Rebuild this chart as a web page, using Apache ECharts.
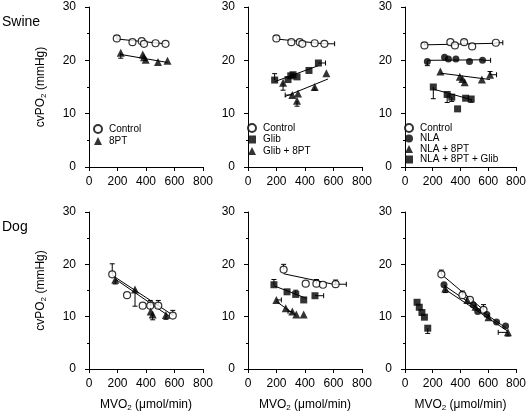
<!DOCTYPE html>
<html><head><meta charset="utf-8">
<script src="https://cdn.jsdelivr.net/npm/echarts@6/dist/echarts.min.js"></script>
<style>html,body{margin:0;padding:0;background:#fff}#c{width:529px;height:413px}</style>
</head><body><div id="c"></div>
<script>
// ---- axis ticks ----
const xTicks = [0, 200, 400, 600, 800];
const yTicks = [0, 10, 20, 30];
const rowLabels = ['Swine', 'Dog'];

// ---- data: [MVO2, cvPO2, yErr(signed, +up/-down), xErr(signed, +right/-left)] ----
// Swine, panel 1
const sw1Control = [[195,24.1,0.5,0],[305,23.4,0,0],[370,23.6,0,0],[386,23.1,0,0],[467,23.2,0,0],[537,23.1,0,0]];
const sw1ControlFit = [[195,24.0],[537,23.1]];
const sw1PT = [[223,21.4,-1.0,0],[377,21.1,0,0],[386,20.6,0,0],[398,20.1,0,0],[484,19.7,0,0],[551,19.9,0,0]];
const sw1PTFit = [[223,21.1],[551,19.6]];
// Swine, panel 2
const sw2Control = [[199,24.1,0.5,0],[304,23.4,0,0],[363,23.4,0,0],[381,23.1,0,0],[468,23.2,0,0],[536,23.1,0,72]];
const sw2ControlFit = [[199,24.0],[536,23.1]];
const sw2Glib = [[187,16.3,1.2,0],[281,16.4,0,0],[300,17.1,0,0],[316,17.3,0,0],[344,16.9,0,0],[428,18.1,0,0],[494,19.5,0,50]];
const sw2GlibFit = [[187,16.0],[494,19.0]];
const sw2GlibPT = [[246,15.8,-1.4,0],[311,13.5,0,-50],[344,12.4,-1.0,0],[351,13.8,0,0],[468,15.0,-0.6,0],[550,17.6,0,0]];
const sw2GlibPTFit = [[259,13.2],[561,16.5]];
// Swine, panel 3
const sw3Control = [[140,22.8,0.5,0],[327,23.4,0,0],[360,22.8,0,0],[426,23.4,0.4,0],[484,22.6,0,0],[655,23.3,0,50]];
const sw3ControlFit = [[140,22.9],[655,23.2]];
const sw3NLA = [[161,19.8,-0.8,0],[285,20.6,0,0],[313,20.25,0,0],[367,20.25,0,0],[465,19.8,0,0],[559,20.0,0,58]];
const sw3NLAFit = [[161,20.0],[559,20.1]];
const sw3NLAPT = [[255,17.9,0,0],[395,16.9,0,0],[414,16.5,0,0],[430,15.9,0,0],[554,16.4,0,0],[613,17.3,0.6,47]];
const sw3NLAPTFit = [[255,17.6],[613,16.4]];
const sw3NLAPTG = [[204,15.0,-2.2,0],[304,13.6,-1.5,0],[337,13.1,-0.8,0],[379,10.9,0,0],[437,12.9,0,0],[477,12.75,-0.6,0]];
const sw3NLAPTGFit = [[204,14.6],[484,12.6]];
// Dog, panel 1
const d1Control = [[163,18.1,2,0],[267,14.1,0,0],[377,12.1,0,0],[430,12.1,1,0],[486,12.1,1,0],[588,10.2,1,0]];
const d1ControlFit = [[163,17.9],[588,10.3]];
const d1PT = [[184,17.05,-0.8,0],[323,15.2,-3.2,0],[433,11.0,0,0],[447,10.4,-1,0],[540,10.3,-0.8,0]];
const d1PTFit = [[184,17.2],[567,10.0]];
// Dog, panel 2
const d2Control = [[250,19.0,1,0],[405,16.3,0,0],[480,16.3,0.8,0],[526,16.1,0,0],[615,16.2,0.8,75]];
const d2ControlFit = [[250,18.2],[615,16.1]];
const d2Glib = [[182,16.1,1,0],[274,14.75,0,0],[335,14.25,0.8,0],[391,13.2,0,0],[470,14.0,0,61]];
const d2GlibFit = [[182,15.9],[410,13.5]];
const d2GlibPT = [[199,13.2,0,35],[265,11.6,0,0],[311,11.0,0,-30],[339,10.4,0,0],[391,10.4,0,0]];
const d2GlibPTFit = [[199,12.9],[328,10.4]];
// Dog, panel 3
const d3Control = [[262,18.1,0.8,0],[414,14.1,0.8,0],[468,13.2,0,0],[566,11.3,1,0]];
const d3ControlFit = [[262,18.1],[566,11.3]];
const d3NLA = [[281,16.1,0,0],[491,12.3,0,0],[524,11.0,0,0],[590,10.4,0,0],[660,9.0,0,0],[725,8.2,0,0]];
const d3NLAFit = [[281,16.0],[725,7.9]];
const d3NLAPT = [[290,15.4,-0.8,0],[449,13.2,0,0],[508,11.9,0,0],[602,9.9,0,0],[742,7.0,-0.7,-70]];
const d3NLAPTFit = [[290,15.2],[742,7.2]];
const d3NLAPTG = [[87,12.75,0,0],[103,11.8,0,0],[122,10.8,0,0],[140,9.9,0,0],[164,7.8,-1,0]];

// ---- groups (panel index, legend name, marker style) ----
const groups = [
  [0,'Control','ctrl',sw1Control,sw1ControlFit],
  [0,'8PT','tri',sw1PT,sw1PTFit],
  [1,'Control','ctrl',sw2Control,sw2ControlFit],
  [1,'Glib','sq',sw2Glib,sw2GlibFit],
  [1,'Glib + 8PT','tri',sw2GlibPT,sw2GlibPTFit],
  [2,'Control','ctrl',sw3Control,sw3ControlFit],
  [2,'NLA','dot',sw3NLA,sw3NLAFit],
  [2,'NLA + 8PT','tri',sw3NLAPT,sw3NLAPTFit],
  [2,'NLA + 8PT + Glib','sq',sw3NLAPTG,sw3NLAPTGFit],
  [3,'Control','ctrl',d1Control,d1ControlFit],
  [3,'8PT','tri',d1PT,d1PTFit],
  [4,'Control','ctrl',d2Control,d2ControlFit],
  [4,'Glib','sq',d2Glib,d2GlibFit],
  [4,'Glib + 8PT','tri',d2GlibPT,d2GlibPTFit],
  [5,'Control','ctrl',d3Control,d3ControlFit],
  [5,'NLA','dot',d3NLA,d3NLAFit],
  [5,'NLA + 8PT','tri',d3NLAPT,d3NLAPTFit],
  [5,'NLA + 8PT + Glib','sq',d3NLAPTG,null]
];

const STY = {
  ctrl:{symbol:'circle',symbolSize:7,itemStyle:{color:'#fff',borderColor:'#000',borderWidth:1.2}},
  dot:{symbol:'circle',symbolSize:7,itemStyle:{color:'#000',borderColor:'#000',borderWidth:0}},
  tri:{symbol:'triangle',symbolSize:8,itemStyle:{color:'#000',borderColor:'#000',borderWidth:0}},
  sq:{symbol:'rect',symbolSize:7,itemStyle:{color:'#000',borderColor:'#000',borderWidth:0}}
};
const ICON = {ctrl:'circle',dot:'circle',tri:'triangle',sq:'rect'};

const FONT = 'Liberation Sans, Arial, sans-serif';
const panels = [
  {left:89,top:7,width:114},{left:248,top:7,width:114},{left:405,top:7,width:115},
  {left:89,top:212,width:114},{left:248,top:212,width:114},{left:405,top:212,width:115}
];

const grid = panels.map(p=>({left:p.left,top:p.top,width:p.width,height:160,containLabel:false}));
const xAxis = panels.map((p,i)=>({
  gridIndex:i,type:'value',min:xTicks[0],max:xTicks[xTicks.length-1],interval:xTicks[1]-xTicks[0],
  offset:2,
  axisLine:{show:true,lineStyle:{color:'#000',width:1}},
  axisTick:{show:true,inside:false,length:4,lineStyle:{color:'#000'}},
  splitLine:{show:false},
  axisLabel:{color:'#000',fontSize:12,fontFamily:FONT,margin:7},
  name: i>=3 ? '{a|MVO}{s|2}{a| (μmol/min)}' : '',
  nameLocation:'middle',nameGap:27,
  nameTextStyle:{color:'#000',fontFamily:FONT,rich:{a:{fontSize:12,fontFamily:FONT,color:'#000'},s:{fontSize:8,fontFamily:FONT,color:'#000',padding:[6,0,0,0]}}}
}));
const yAxis = panels.map((p,i)=>({
  gridIndex:i,type:'value',min:yTicks[0],max:yTicks[yTicks.length-1],interval:yTicks[1]-yTicks[0],
  offset:7,
  axisLine:{show:true,lineStyle:{color:'#000',width:1}},
  axisTick:{show:true,inside:false,length:4,lineStyle:{color:'#000'}},
  minorTick:{show:true,splitNumber:2,length:2,lineStyle:{color:'#000'}},
  splitLine:{show:false},
  axisLabel:{color:'#000',fontSize:12,fontFamily:FONT,margin:6},
  name: (i===0||i===3) ? '{a|cvPO}{s|2}{a| (mmHg)}' : '',
  nameLocation:'middle',nameGap:34,nameRotate:90,
  nameTextStyle:{color:'#000',fontFamily:FONT,rich:{a:{fontSize:12,fontFamily:FONT,color:'#000'},s:{fontSize:8,fontFamily:FONT,color:'#000',padding:[6,0,0,0]}}}
}));

function renderErr(params, api){
  const x=api.value(0), y=api.value(1), ey=api.value(2), ex=api.value(3);
  const p=api.coord([x,y]);
  const st={stroke:'#000',lineWidth:1};
  const ch=[], cap=2.5;
  if(ey){const q=api.coord([x,y+ey]);
    ch.push({type:'line',shape:{x1:p[0],y1:p[1],x2:q[0],y2:q[1]},style:st});
    ch.push({type:'line',shape:{x1:q[0]-cap,y1:q[1],x2:q[0]+cap,y2:q[1]},style:st});}
  if(ex){const q=api.coord([x+ex,y]);
    ch.push({type:'line',shape:{x1:p[0],y1:p[1],x2:q[0],y2:q[1]},style:st});
    ch.push({type:'line',shape:{x1:q[0],y1:q[1]-cap,x2:q[0],y2:q[1]+cap},style:st});}
  return {type:'group',children:ch};
}

const series=[];
groups.forEach(([k,name,sty,pts,fit])=>{
  if(fit) series.push({type:'line',name:'fit',xAxisIndex:k,yAxisIndex:k,data:fit,symbol:'none',
    lineStyle:{color:'#000',width:1},z:1,silent:true,animation:false});
  series.push({type:'custom',name:'err',xAxisIndex:k,yAxisIndex:k,renderItem:renderErr,
    data:pts,encode:{x:0,y:1},z:2,silent:true,animation:false});
  series.push(Object.assign({type:'scatter',name:name,xAxisIndex:k,yAxisIndex:k,
    data:pts.map(d=>[d[0],d[1]]),z:3,animation:false},JSON.parse(JSON.stringify(STY[sty]))));
});

function legendFor(names, styles, left, top, gap){
  return {left:left,top:top,orient:'vertical',padding:0,itemGap:gap,itemWidth:8,itemHeight:8,
    selectedMode:false,
    textStyle:{fontSize:10,fontFamily:FONT,color:'#000',lineHeight:10,padding:[0,0,0,2]},
    data:names.map((n,i)=>({name:n,icon:ICON[styles[i]]}))};
}

const option = {
  animation:false,
  title:[
    {text:rowLabels[0],left:2,top:15,padding:0,textStyle:{fontSize:14,fontWeight:'normal',fontFamily:FONT,color:'#000'}},
    {text:rowLabels[1],left:2,top:220,padding:0,textStyle:{fontSize:14,fontWeight:'normal',fontFamily:FONT,color:'#000'}}
  ],
  legend:[
    legendFor(['Control','8PT'],['ctrl','tri'],93,124,2),
    legendFor(['Control','Glib','Glib + 8PT'],['ctrl','sq','tri'],247,123,1.5),
    legendFor(['Control','NLA','NLA + 8PT','NLA + 8PT + Glib'],['ctrl','dot','tri','sq'],404,123,0.5)
  ],
  grid:grid, xAxis:xAxis, yAxis:yAxis, series:series
};
const chart = echarts.init(document.getElementById('c'),null,{renderer:'canvas'});
chart.setOption(option);
</script></body></html>
